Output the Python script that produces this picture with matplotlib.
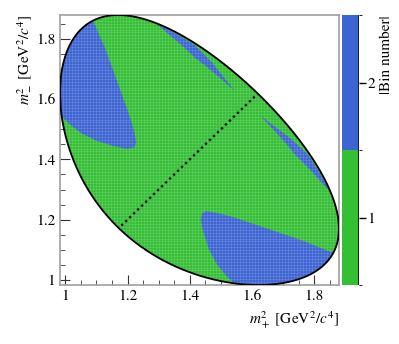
import numpy as np
import matplotlib.pyplot as plt
from matplotlib.path import Path
from matplotlib.patches import PathPatch, Polygon
from matplotlib.colors import ListedColormap, BoundaryNorm
from matplotlib.cm import ScalarMappable

plt.rcParams['font.family'] = ['STIXGeneral', 'DejaVu Serif']
plt.rcParams['mathtext.fontset'] = 'stix'

# masses (GeV/c^2) for D0 -> KS K+ K-
m_d = 1.86484
m_ks = 0.497611
m_k = 0.493677

# bin 2 regions above the diagonal (m2+, m2-)
bin2_corner = [(1.080, 1.900), (1.091, 1.857), (1.128, 1.769), (1.171, 1.647),
               (1.209, 1.537), (1.222, 1.490), (1.228, 1.455), (1.222, 1.440),
               (1.200, 1.435), (1.160, 1.443), (1.100, 1.462), (1.050, 1.488),
               (1.010, 1.520), (0.975, 1.557), (0.950, 1.560), (0.950, 1.900)]
bin2_sliver = [(1.283, 1.860), (1.360, 1.815), (1.415, 1.781), (1.470, 1.724),
               (1.515, 1.666), (1.546, 1.627), (1.490, 1.677), (1.450, 1.712),
               (1.420, 1.735), (1.370, 1.783), (1.330, 1.818)]
diag_ends = [1.180, 1.616]

bin_values = [1, 2]
bin_colors = ['#34bf34', '#3c64d2']


def dalitz_boundary(n=400):
    lo = (m_ks + m_k) ** 2
    hi = (m_d - m_k) ** 2
    s = np.linspace(lo, hi, n)
    m12 = np.sqrt(s)
    e1 = (s + m_ks**2 - m_k**2) / (2 * m12)
    e3 = (m_d**2 - s - m_k**2) / (2 * m12)
    p1 = np.sqrt(np.clip(e1**2 - m_ks**2, 0, None))
    p3 = np.sqrt(np.clip(e3**2 - m_k**2, 0, None))
    smin = (e1 + e3) ** 2 - (p1 + p3) ** 2
    smax = (e1 + e3) ** 2 - (p1 - p3) ** 2
    x = np.concatenate([s, s[::-1]])
    y = np.concatenate([smax, smin[::-1]])
    return x, y, lo, hi


bx, by, lo, hi = dalitz_boundary()

fig = plt.figure(figsize=(3.99, 3.44), dpi=100)
ax = fig.add_axes([60 / 399, 1 - 285 / 344, 279 / 399, 270 / 344])

region = PathPatch(Path(np.column_stack([bx, by]), closed=True),
                   facecolor=bin_colors[0], edgecolor='none', zorder=1)
ax.add_patch(region)

for poly in [bin2_corner, bin2_sliver]:
    pts = np.array(poly)
    for p in [pts, pts[:, ::-1]]:
        patch = Polygon(p, closed=True, facecolor=bin_colors[1],
                        edgecolor='none', zorder=2)
        ax.add_patch(patch)
        patch.set_clip_path(region)

# faint histogram cell grid
cell = (hi - lo) / 93
for g in np.arange(lo, hi, cell):
    for ln in [ax.axvline(g, color='white', lw=0.8, alpha=0.12, zorder=2.5),
               ax.axhline(g, color='white', lw=0.8, alpha=0.12, zorder=2.5)]:
        ln.set_clip_path(region)

ax.plot(np.append(bx, bx[0]), np.append(by, by[0]), color='black', lw=1.3, zorder=4)
ax.plot(diag_ends, diag_ends, color='black', lw=1.6, ls=(0, (1, 1.5)), zorder=3)

ax.set_xlim(lo, hi)
ax.set_ylim(lo, hi)
ticks = [1, 1.2, 1.4, 1.6, 1.8]
ax.set_xticks(ticks)
ax.set_yticks(ticks)
ax.set_xticklabels(['1', '1.2', '1.4', '1.6', '1.8'])
ax.set_yticklabels(['1', '1.2', '1.4', '1.6', '1.8'])
ax.set_xticks(np.arange(1.0, 1.88, 0.05), minor=True)
ax.set_yticks(np.arange(1.0, 1.88, 0.05), minor=True)
ax.tick_params(which='both', direction='in', labelsize=11, color='#333333')
ax.tick_params(which='major', length=7)
ax.tick_params(which='minor', length=3.5)
for sp in ax.spines.values():
    sp.set_color('#a0a0a0')
    sp.set_linewidth(1.2)

ax.set_xlabel(r'$m^2_+$ [GeV$^2$/$c^4$]', fontsize=11, loc='right', labelpad=4)
ax.set_ylabel(r'$m^2_-$ [GeV$^2$/$c^4$]', fontsize=11, loc='top', labelpad=2)

cax = fig.add_axes([342 / 399, 1 - 285 / 344, 17 / 399, 270 / 344])
cmap = ListedColormap(bin_colors)
norm = BoundaryNorm([0.5, 1.5, 2.5], cmap.N)
cb = fig.colorbar(ScalarMappable(norm=norm, cmap=cmap), cax=cax, ticks=bin_values)
cb.outline.set_visible(False)
cax.axvline(1, color='#222222', lw=1.5)
cax.tick_params(labelsize=11, length=5, width=1, pad=1)
cb.set_label('|Bin number|', fontsize=11, loc='top', labelpad=3)

fig.savefig('out.png', dpi=100)
